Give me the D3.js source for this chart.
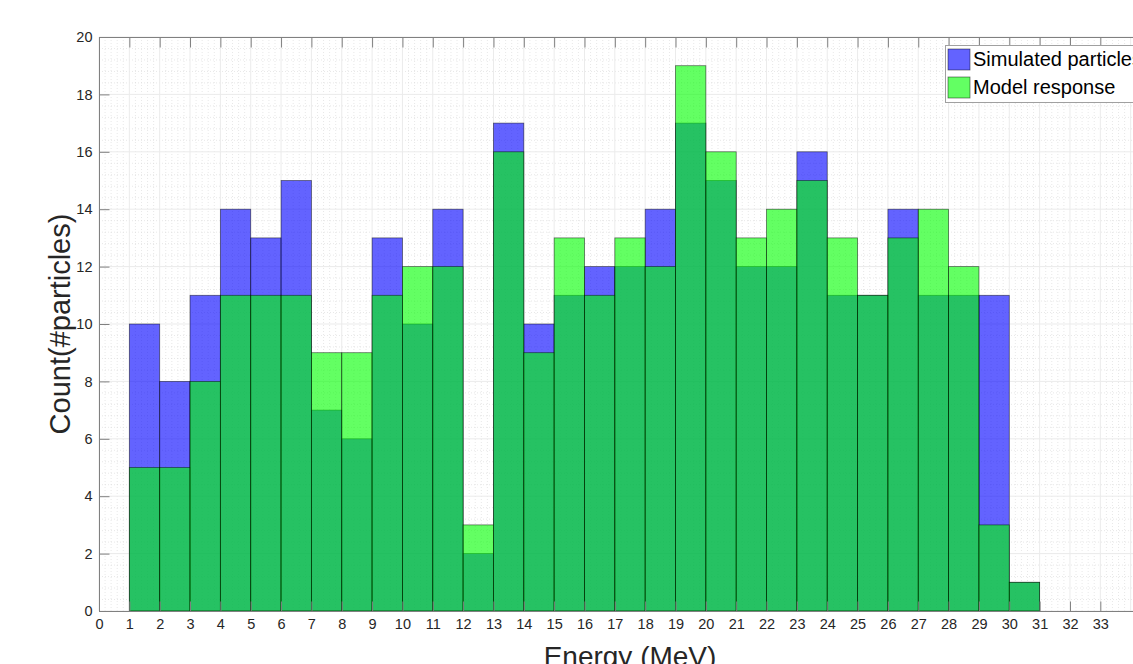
<!DOCTYPE html>
<html><head><meta charset="utf-8">
<script src="https://cdn.jsdelivr.net/npm/d3@7"></script>
<style>body{margin:0;background:#fff;overflow:hidden}svg{display:block}text{font-family:"Liberation Sans",Arial,Helvetica,sans-serif}</style>
</head><body>
<svg id="c" width="1133" height="664"></svg>
<script>
const binStarts = [1,2,3,4,5,6,7,8,9,10,11,12,13,14,15,16,17,18,19,20,21,22,23,24,25,26,27,28,29,30];
const simulated = [10,8,11,14,13,15,7,6,13,10,14,2,17,10,11,12,12,14,17,15,12,12,16,11,11,14,11,11,11,1];
const model     = [5,5,8,11,11,11,9,9,11,12,12,3,16,9,13,11,13,12,19,16,13,14,15,13,11,13,14,12,3,1];
const xTicks = d3.range(0,34);
const yTicks = d3.range(0,21,2);
const seriesNames = ["Simulated particles","Model response"];
const colors = ["#0000ff","#00ff00"];

const svg = d3.select("#c");
const L=99, T=37, B=611, R=1161;
const x = d3.scaleLinear().domain([0,35]).range([L,R]);
const y = d3.scaleLinear().domain([0,20]).range([B,T]);
const OP = 0.61;

// grid minor
const g = svg.append("g");
const minorX = d3.range(0,35.01,0.2).filter(v=>Math.abs(v-Math.round(v))>1e-6);
const minorY = d3.range(0,20.01,0.4).filter(v=>Math.abs(v/2-Math.round(v/2))>1e-6);
g.selectAll(".mx").data(minorX).join("line").attr("x1",d=>x(d)).attr("x2",d=>x(d)).attr("y1",T).attr("y2",B)
 .attr("stroke","#d9d9d9").attr("stroke-width",0.6).attr("stroke-dasharray","1,2");
g.selectAll(".my").data(minorY).join("line").attr("y1",d=>y(d)).attr("y2",d=>y(d)).attr("x1",L).attr("x2",R)
 .attr("stroke","#d9d9d9").attr("stroke-width",0.6).attr("stroke-dasharray","1,2");
g.selectAll(".gx").data(d3.range(0,36)).join("line").attr("x1",d=>x(d)).attr("x2",d=>x(d)).attr("y1",T).attr("y2",B)
 .attr("stroke","#ebebeb").attr("stroke-width",1);
g.selectAll(".gy").data(yTicks).join("line").attr("y1",d=>y(d)).attr("y2",d=>y(d)).attr("x1",L).attr("x2",R)
 .attr("stroke","#ebebeb").attr("stroke-width",1);

// bars
function drawHist(vals,color){
  svg.append("g").selectAll("rect").data(binStarts.map((s,i)=>({s,v:vals[i]}))).join("rect")
   .attr("x",d=>x(d.s)).attr("width",d=>x(d.s+1)-x(d.s))
   .attr("y",d=>y(d.v)).attr("height",d=>y(0)-y(d.v))
   .attr("fill",color).attr("fill-opacity",OP)
   .attr("stroke","#000").attr("stroke-opacity",0.55).attr("stroke-width",0.8);
}
drawHist(simulated,colors[0]);
drawHist(model,colors[1]);

// axes box
const ax = svg.append("g").attr("stroke","#808080").attr("stroke-width",1).attr("fill","none");
ax.append("line").attr("x1",L).attr("x2",R).attr("y1",B+0.5).attr("y2",B+0.5);
ax.append("line").attr("x1",L).attr("x2",R).attr("y1",T+0.5).attr("y2",T+0.5);
ax.append("line").attr("x1",L+0.5).attr("x2",L+0.5).attr("y1",T).attr("y2",B);

// ticks via d3 axes
const xb = svg.append("g").attr("transform",`translate(0,${B+0.5})`)
  .call(d3.axisBottom(x).tickValues(xTicks).tickSize(-10).tickPadding(7).tickFormat(d3.format("d")));
const xt = svg.append("g").attr("transform",`translate(0,${T+0.5})`)
  .call(d3.axisTop(x).tickValues(xTicks).tickSize(-10).tickFormat(""));
const yl = svg.append("g").attr("transform",`translate(${L+0.5},0)`)
  .call(d3.axisLeft(y).tickValues(yTicks).tickSize(-10).tickPadding(7));
[xb,xt,yl].forEach(a=>{
  a.select(".domain").remove();
  a.selectAll(".tick line").attr("stroke","#808080");
  a.selectAll(".tick text").attr("fill","#262626").style("font-size","14.5px");
});

// labels
svg.append("text").attr("x",(L+R)/2).attr("y",666).attr("text-anchor","middle")
  .attr("fill","#262626").style("font-size","28px").text("Energy (MeV)");
svg.append("text").attr("transform",`translate(70,${(T+B)/2}) rotate(-90)`).attr("text-anchor","middle")
  .attr("fill","#262626").style("font-size","29px").text("Count(#particles)");

// legend
const lg = svg.append("g");
lg.append("rect").attr("x",945.5).attr("y",45.5).attr("width",240).attr("height",57)
  .attr("fill","#fff").attr("stroke","#a0a0a0").attr("stroke-width",1);
seriesNames.forEach((n,i)=>{
  const yy = 49 + i*28;
  lg.append("rect").attr("x",948).attr("y",yy).attr("width",22).attr("height",21)
    .attr("fill",colors[i]).attr("fill-opacity",OP).attr("stroke","#000").attr("stroke-opacity",0.55).attr("stroke-width",0.8);
  lg.append("text").attr("x",973).attr("y",yy+17).attr("fill","#000").style("font-size","20px").text(n);
});
</script>
</body></html>
